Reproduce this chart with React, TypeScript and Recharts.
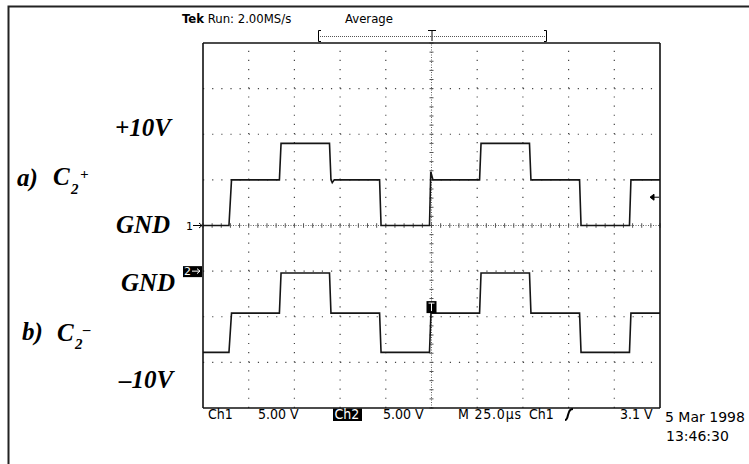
import React from "react";
import {
  LineChart,
  Line,
  XAxis,
  YAxis,
  ReferenceLine,
  ReferenceDot,
} from "recharts";

// Tek scope capture: C2+ / C2- of a charge pump, 25 us/div, 5 V/div
// time is in us from the trigger point (screen centre)

const ch1Time = [
  -125, -110.8, -109.4, -83.2, -82.3, -55.8, -55.0, -54.3, -53.2, -28.4,
  -27.6, -1.1, -0.4, 0.8, 26.3, 27.1, 53.6, 54.4, 81.0, 81.8, 108.3, 109.1,
  125,
];
const ch1Volts = [
  0, 0, 5, 5, 9, 9, 5, 4.7, 5, 5, 0, 0, 5.9, 5, 5, 9, 9, 5, 5, 0, 0, 5, 5,
];

const ch2Time = [
  -125, -110.8, -109.4, -83.2, -82.3, -55.8, -55.0, -28.4, -27.6, -1.1, -0.3,
  26.3, 27.1, 53.6, 54.4, 81.0, 81.8, 108.3, 109.1, 125,
];
const ch2Volts = [
  -8.9, -8.9, -4.6, -4.6, -0.2, -0.2, -4.6, -4.6, -8.9, -8.9, -4.6, -4.6,
  -0.2, -0.2, -4.6, -4.6, -8.9, -8.9, -4.6, -4.6,
];

// graticule: 10 x 8 divisions, 5 minor ticks per division
const majorTimes = [-100, -75, -50, -25, 25, 50, 75, 100];
const majorVolts = [-15, -10, -5, 5, 10, 15];
const minorTimes = Array.from({ length: 51 }, (_, i) => -125 + i * 5);
const minorVolts = Array.from({ length: 41 }, (_, i) => -20 + i);
const minorVolts2 = minorVolts.map((v) => v + 5);

const triggerLevel = 3.1;

const ch1Data = ch1Time.map((t, i) => ({ t, v: ch1Volts[i] }));
const ch2Data = ch2Time.map((t, i) => ({ t, v: ch2Volts[i] }));

const frameLine = { stroke: "#111", strokeWidth: 1.6 };
const frameTick = { stroke: "#333", strokeWidth: 1 };
const dotStroke = "#444";
const thin = 0.001; // axes must have a size > 0 to be drawn

const scopeFont = "'DejaVu Sans', sans-serif";
const scopeNarrow = "'DejaVu Sans Condensed', 'DejaVu Sans', sans-serif";
const serif = "'Liberation Serif', 'Times New Roman', serif";

function Handwritten({ x, y, size = 25, children }: any) {
  return (
    <text
      x={x}
      y={y}
      fontFamily={serif}
      fontWeight={700}
      fontStyle="italic"
      fontSize={size}
      fill="#000"
    >
      {children}
    </text>
  );
}

function Overlay() {
  return (
    <svg
      width={749}
      height={464}
      style={{ position: "absolute", left: 0, top: 0, pointerEvents: "none" }}
    >
      {/* outer frame */}
      <path d="M8.5,464 L8.5,6.5 L749,6.5" fill="none" stroke="#222" strokeWidth={2} />

      {/* header */}
      <text x={182} y={23} fontFamily={scopeNarrow} fontSize={13} fill="#000">
        <tspan fontWeight={700}>Tek</tspan>
        <tspan> Run: 2.00MS/s</tspan>
      </text>
      <text x={345} y={23} fontFamily={scopeNarrow} fontSize={13} fill="#000">
        Average
      </text>
      <g stroke="#000" fill="none" strokeWidth={1}>
        <path d="M321,30.5 L318.5,30.5 L318.5,41.5 L321,41.5" />
        <path d="M544,30.5 L546.5,30.5 L546.5,41.5 L544,41.5" />
        <path d="M428,30.5 L436,30.5 M432,30.5 L432,41" />
      </g>
      <line x1={320} y1={36.5} x2={545} y2={36.5} stroke="#555" strokeDasharray="1 1" />

      {/* hand-written annotations */}
      <Handwritten x={115} y={136}>+10V</Handwritten>
      <Handwritten x={17} y={186}>a)</Handwritten>
      <Handwritten x={53} y={185}>C</Handwritten>
      <Handwritten x={71} y={194} size={15}>2</Handwritten>
      <Handwritten x={80} y={179} size={15}>+</Handwritten>
      <Handwritten x={116} y={233}>GND</Handwritten>
      <Handwritten x={121} y={291}>GND</Handwritten>
      <Handwritten x={22} y={340}>b)</Handwritten>
      <Handwritten x={57} y={341}>C</Handwritten>
      <Handwritten x={75} y={349} size={15}>2</Handwritten>
      <Handwritten x={83} y={334} size={15}>–</Handwritten>
      <Handwritten x={119} y={388}>–10V</Handwritten>

      {/* readout line */}
      <g fontFamily={scopeNarrow} fontSize={14} fill="#000">
        <text x={208} y={419}>Ch1</text>
        <text x={258} y={419}>5.00 V</text>
        <rect x={333} y={408.5} width={29} height={12.5} fill="#000" />
        <text x={334.5} y={419} fill="#fff">Ch2</text>
        <text x={383} y={419}>5.00 V</text>
        <text x={458} y={419} textLength={63}>M 25.0µs</text>
        <text x={529} y={419}>Ch1</text>
        <text x={620} y={419}>3.1 V</text>
      </g>
      <g fontFamily={scopeFont} fontSize={14} fill="#000">
        <text x={665} y={422}>5 Mar 1998</text>
        <text x={666} y={441}>13:46:30</text>
      </g>
      <path d="M565,420 Q567,420 568,415 L569,412 Q570,409 573,409" fill="none" stroke="#000" strokeWidth={2} />
    </svg>
  );
}

export default function App() {
  return (
    <div
      style={{
        position: "absolute",
        left: 0,
        top: 0,
        width: 749,
        height: 464,
        background: "#fff",
      }}
    >
      <LineChart
        width={749}
        height={464}
        margin={{ top: 43, right: 89, bottom: 56, left: 203 }}
      >
        <XAxis
          xAxisId="b"
          type="number"
          dataKey="t"
          domain={[-125, 125]}
          ticks={minorTimes}
          interval={0}
          orientation="bottom"
          mirror
          height={thin}
          tick={false}
          tickSize={3}
          axisLine={frameLine}
          tickLine={frameTick}
        />
        <XAxis
          xAxisId="t"
          type="number"
          dataKey="t"
          domain={[-125, 125]}
          ticks={minorTimes}
          interval={0}
          orientation="top"
          mirror
          height={thin}
          tick={false}
          tickSize={3}
          axisLine={frameLine}
          tickLine={frameTick}
        />
        <YAxis
          yAxisId="l"
          type="number"
          domain={[-20, 20]}
          ticks={minorVolts}
          interval={0}
          orientation="left"
          mirror
          width={thin}
          tick={false}
          tickSize={3}
          axisLine={frameLine}
          tickLine={frameTick}
        />
        <YAxis
          yAxisId="r"
          type="number"
          domain={[-15, 25]}
          ticks={minorVolts2}
          interval={0}
          orientation="right"
          mirror
          width={thin}
          tick={false}
          tickSize={3}
          axisLine={frameLine}
          tickLine={frameTick}
        />

        {majorTimes.map((t) => (
          <ReferenceLine
            key={"gx" + t}
            xAxisId="b"
            yAxisId="l"
            x={t}
            stroke={dotStroke}
            strokeWidth={1.2}
            strokeDasharray="1.2 7.93"
          />
        ))}
        {majorVolts.map((v) => (
          <ReferenceLine
            key={"gy" + v}
            xAxisId="b"
            yAxisId="l"
            y={v}
            stroke={dotStroke}
            strokeWidth={1.2}
            strokeDasharray="1.2 7.94"
          />
        ))}
        <ReferenceLine xAxisId="b" yAxisId="l" x={0} stroke="#666" strokeDasharray="1 1.5" />
        <ReferenceLine xAxisId="b" yAxisId="l" y={0} stroke="#666" strokeDasharray="1 1.5" />
        {minorTimes.map((t) => (
          <ReferenceLine
            key={"tx" + t}
            xAxisId="b"
            yAxisId="l"
            segment={[
              { x: t, y: -0.25 },
              { x: t, y: 0.25 },
            ]}
            stroke="#555"
          />
        ))}
        {minorVolts.map((v) => (
          <ReferenceLine
            key={"ty" + v}
            xAxisId="b"
            yAxisId="l"
            segment={[
              { x: -1.1, y: v },
              { x: 1.1, y: v },
            ]}
            stroke="#555"
          />
        ))}

        <Line
          xAxisId="b"
          yAxisId="l"
          data={ch1Data}
          dataKey="v"
          type="linear"
          dot={false}
          stroke="#151515"
          strokeWidth={1.6}
          isAnimationActive={false}
        />
        <Line
          xAxisId="b"
          yAxisId="r"
          data={ch2Data}
          dataKey="v"
          type="linear"
          dot={false}
          stroke="#151515"
          strokeWidth={1.6}
          isAnimationActive={false}
        />

        {/* channel ground markers */}
        <ReferenceDot
          xAxisId="b"
          yAxisId="l"
          x={-125}
          y={0}
          shape={(p: any) => (
            <g>
              <text x={p.cx - 17} y={p.cy + 4} fontFamily={scopeFont} fontSize={11} fill="#000">
                1
              </text>
              <path d={`M${p.cx - 10},${p.cy} L${p.cx - 1},${p.cy} M${p.cx - 4},${p.cy - 2.5} L${p.cx - 1},${p.cy} L${p.cx - 4},${p.cy + 2.5}`} stroke="#000" fill="none" />
            </g>
          )}
        />
        <ReferenceDot
          xAxisId="b"
          yAxisId="r"
          x={-125}
          y={0}
          shape={(p: any) => (
            <g>
              <rect x={p.cx - 20} y={p.cy - 5} width={19} height={11} fill="#000" />
              <text x={p.cx - 19} y={p.cy + 4} fontFamily={scopeFont} fontSize={11} fill="#fff">
                2
              </text>
              <path d={`M${p.cx - 11},${p.cy} L${p.cx - 3},${p.cy} M${p.cx - 6},${p.cy - 2.5} L${p.cx - 3},${p.cy} L${p.cx - 6},${p.cy + 2.5}`} stroke="#fff" fill="none" />
            </g>
          )}
        />
        {/* trigger level and trigger position */}
        <ReferenceDot
          xAxisId="b"
          yAxisId="l"
          x={125}
          y={triggerLevel}
          shape={(p: any) => (
            <path
              d={`M${p.cx - 9},${p.cy} L${p.cx - 1},${p.cy} M${p.cx - 10},${p.cy} L${p.cx - 6},${p.cy - 3} L${p.cx - 6},${p.cy + 3} Z`}
              stroke="#000"
              fill="#000"
            />
          )}
        />
        <ReferenceDot
          xAxisId="b"
          yAxisId="r"
          x={0}
          y={-4.6}
          shape={(p: any) => (
            <g>
              <rect x={p.cx - 5} y={p.cy - 12} width={10} height={12} fill="#000" />
              <path d={`M${p.cx - 3},${p.cy - 10} L${p.cx + 3},${p.cy - 10} M${p.cx},${p.cy - 10} L${p.cx},${p.cy - 2}`} stroke="#fff" />
            </g>
          )}
        />
      </LineChart>
      <Overlay />
    </div>
  );
}
